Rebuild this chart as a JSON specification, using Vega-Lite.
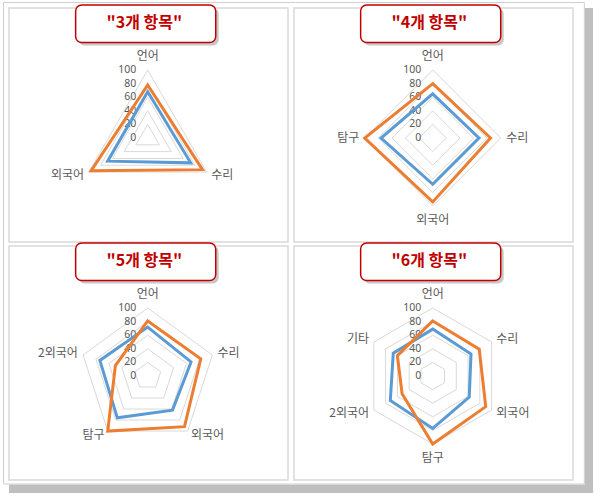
{
  "$schema": "https://vega.github.io/schema/vega-lite/v6.json",
  "description": "Radar charts with 3, 4, 5 and 6 items, two series each.",
  "padding": {"left": 2, "top": 0, "right": 2, "bottom": 2},
  "bounds": "flush",
  "background": "white",
  "data": {
    "values": [
      {"kind": "frame", "chart": "\"3개 항목\""},
      {"kind": "title", "chart": "\"3개 항목\""},
      {"kind": "title", "chart": "\"4개 항목\""},
      {"kind": "title", "chart": "\"5개 항목\""},
      {"kind": "title", "chart": "\"6개 항목\""},

      {"kind": "item", "chart": "\"3개 항목\"", "n": 3, "idx": 0, "item": "언어", "A": 68, "B": 78},
      {"kind": "item", "chart": "\"3개 항목\"", "n": 3, "idx": 1, "item": "수리", "A": 73, "B": 93},
      {"kind": "item", "chart": "\"3개 항목\"", "n": 3, "idx": 2, "item": "외국어", "A": 68, "B": 96},

      {"kind": "item", "chart": "\"4개 항목\"", "n": 4, "idx": 0, "item": "언어", "A": 65, "B": 80},
      {"kind": "item", "chart": "\"4개 항목\"", "n": 4, "idx": 1, "item": "수리", "A": 68, "B": 85},
      {"kind": "item", "chart": "\"4개 항목\"", "n": 4, "idx": 2, "item": "외국어", "A": 68, "B": 94},
      {"kind": "item", "chart": "\"4개 항목\"", "n": 4, "idx": 3, "item": "탐구", "A": 76, "B": 100},

      {"kind": "item", "chart": "\"5개 항목\"", "n": 5, "idx": 0, "item": "언어", "A": 72, "B": 81},
      {"kind": "item", "chart": "\"5개 항목\"", "n": 5, "idx": 1, "item": "수리", "A": 67, "B": 82},
      {"kind": "item", "chart": "\"5개 항목\"", "n": 5, "idx": 2, "item": "외국어", "A": 62, "B": 92},
      {"kind": "item", "chart": "\"5개 항목\"", "n": 5, "idx": 3, "item": "탐구", "A": 76, "B": 100},
      {"kind": "item", "chart": "\"5개 항목\"", "n": 5, "idx": 4, "item": "2외국어", "A": 74, "B": 50},

      {"kind": "item", "chart": "\"6개 항목\"", "n": 6, "idx": 0, "item": "언어", "A": 69, "B": 81},
      {"kind": "item", "chart": "\"6개 항목\"", "n": 6, "idx": 1, "item": "수리", "A": 65, "B": 79},
      {"kind": "item", "chart": "\"6개 항목\"", "n": 6, "idx": 2, "item": "외국어", "A": 62, "B": 90},
      {"kind": "item", "chart": "\"6개 항목\"", "n": 6, "idx": 3, "item": "탐구", "A": 77, "B": 100},
      {"kind": "item", "chart": "\"6개 항목\"", "n": 6, "idx": 4, "item": "2외국어", "A": 72, "B": 52},
      {"kind": "item", "chart": "\"6개 항목\"", "n": 6, "idx": 5, "item": "기타", "A": 67, "B": 60},

      {"kind": "tick", "chart": "\"3개 항목\"", "n": 3, "level": 0, "spokes": [0, 1, 2]},
      {"kind": "tick", "chart": "\"3개 항목\"", "n": 3, "level": 20, "spokes": [0, 1, 2]},
      {"kind": "tick", "chart": "\"3개 항목\"", "n": 3, "level": 40, "spokes": [0, 1, 2]},
      {"kind": "tick", "chart": "\"3개 항목\"", "n": 3, "level": 60, "spokes": [0, 1, 2]},
      {"kind": "tick", "chart": "\"3개 항목\"", "n": 3, "level": 80, "spokes": [0, 1, 2]},
      {"kind": "tick", "chart": "\"3개 항목\"", "n": 3, "level": 100, "spokes": [0, 1, 2]},

      {"kind": "tick", "chart": "\"4개 항목\"", "n": 4, "level": 0, "spokes": [0, 1, 2, 3]},
      {"kind": "tick", "chart": "\"4개 항목\"", "n": 4, "level": 20, "spokes": [0, 1, 2, 3]},
      {"kind": "tick", "chart": "\"4개 항목\"", "n": 4, "level": 40, "spokes": [0, 1, 2, 3]},
      {"kind": "tick", "chart": "\"4개 항목\"", "n": 4, "level": 60, "spokes": [0, 1, 2, 3]},
      {"kind": "tick", "chart": "\"4개 항목\"", "n": 4, "level": 80, "spokes": [0, 1, 2, 3]},
      {"kind": "tick", "chart": "\"4개 항목\"", "n": 4, "level": 100, "spokes": [0, 1, 2, 3]},

      {"kind": "tick", "chart": "\"5개 항목\"", "n": 5, "level": 0, "spokes": [0, 1, 2, 3, 4]},
      {"kind": "tick", "chart": "\"5개 항목\"", "n": 5, "level": 20, "spokes": [0, 1, 2, 3, 4]},
      {"kind": "tick", "chart": "\"5개 항목\"", "n": 5, "level": 40, "spokes": [0, 1, 2, 3, 4]},
      {"kind": "tick", "chart": "\"5개 항목\"", "n": 5, "level": 60, "spokes": [0, 1, 2, 3, 4]},
      {"kind": "tick", "chart": "\"5개 항목\"", "n": 5, "level": 80, "spokes": [0, 1, 2, 3, 4]},
      {"kind": "tick", "chart": "\"5개 항목\"", "n": 5, "level": 100, "spokes": [0, 1, 2, 3, 4]},

      {"kind": "tick", "chart": "\"6개 항목\"", "n": 6, "level": 0, "spokes": [0, 1, 2, 3, 4, 5]},
      {"kind": "tick", "chart": "\"6개 항목\"", "n": 6, "level": 20, "spokes": [0, 1, 2, 3, 4, 5]},
      {"kind": "tick", "chart": "\"6개 항목\"", "n": 6, "level": 40, "spokes": [0, 1, 2, 3, 4, 5]},
      {"kind": "tick", "chart": "\"6개 항목\"", "n": 6, "level": 60, "spokes": [0, 1, 2, 3, 4, 5]},
      {"kind": "tick", "chart": "\"6개 항목\"", "n": 6, "level": 80, "spokes": [0, 1, 2, 3, 4, 5]},
      {"kind": "tick", "chart": "\"6개 항목\"", "n": 6, "level": 100, "spokes": [0, 1, 2, 3, 4, 5]}
    ]
  },
  "facet": {"field": "chart", "type": "nominal", "title": null, "header": {"labelExpr": "''", "labelFontSize": 1, "labelColor": "transparent", "labelPadding": 0, "title": null, "titlePadding": 0}},
  "columns": 2,
  "spacing": {"row": 4, "column": 6},
  "spec": {
    "width": 279,
    "height": 234,
    "layer": [
      {
        "transform": [{"filter": "datum.kind === 'frame'"}],
        "mark": {"type": "rect", "fill": "#bfbfbf"},
        "encoding": {
          "x": {"datum": 642.8, "type": "quantitative", "scale": {"domain": [-204, 206.3], "nice": false, "zero": false}},
          "x2": {"datum": 654.9},
          "y": {"datum": 191.2, "type": "quantitative", "scale": {"domain": [-152.9, 191.2], "nice": false, "zero": false}},
          "y2": {"datum": -522.1}
        }
      },
      {
        "transform": [{"filter": "datum.kind === 'frame'"}],
        "mark": {"type": "rect", "fill": "#bfbfbf"},
        "encoding": {
          "x": {"datum": -204, "type": "quantitative"},
          "x2": {"datum": 654.9},
          "y": {"datum": -509.6, "type": "quantitative"},
          "y2": {"datum": -522.1}
        }
      },
      {
        "transform": [{"filter": "datum.kind === 'frame'"}],
        "mark": {"type": "rect", "fillOpacity": 0, "stroke": "#cfcfcf", "strokeWidth": 1},
        "encoding": {
          "x": {"datum": -212.1, "type": "quantitative"},
          "x2": {"datum": 642.1},
          "y": {"datum": 199.3, "type": "quantitative"},
          "y2": {"datum": -508.8}
        }
      },
      {
        "transform": [
          {"filter": "datum.kind === 'tick' && datum.level > 0"},
          {"flatten": ["spokes"], "as": ["idx"]},
          {"calculate": "2 * PI * datum.idx / datum.n", "as": "ang"},
          {"calculate": "datum.level * sin(datum.ang)", "as": "gx"},
          {"calculate": "datum.level * cos(datum.ang)", "as": "gy"}
        ],
        "mark": {"type": "line", "color": "#d9d9d9", "strokeWidth": 1, "interpolate": "linear-closed"},
        "encoding": {
          "x": {"field": "gx", "type": "quantitative"},
          "y": {"field": "gy", "type": "quantitative"},
          "detail": {"field": "level", "type": "nominal"},
          "order": {"field": "idx", "type": "quantitative"}
        }
      },
      {
        "transform": [
          {"filter": "datum.kind === 'tick'"}
        ],
        "mark": {"type": "text", "align": "right", "baseline": "middle", "fontSize": 10.5, "font": "Noto Sans", "color": "#595959"},
        "encoding": {
          "x": {"datum": -17, "type": "quantitative"},
          "y": {"field": "level", "type": "quantitative"},
          "text": {"field": "level", "type": "quantitative"}
        }
      },
      {
        "transform": [
          {"filter": "datum.kind === 'item'"},
          {"fold": ["A", "B"], "as": ["series", "value"]},
          {"calculate": "2 * PI * datum.idx / datum.n", "as": "ang"},
          {"calculate": "datum.value * sin(datum.ang)", "as": "vx"},
          {"calculate": "datum.value * cos(datum.ang)", "as": "vy"}
        ],
        "mark": {"type": "line", "strokeWidth": 3, "interpolate": "linear-closed"},
        "encoding": {
          "x": {"field": "vx", "type": "quantitative"},
          "y": {"field": "vy", "type": "quantitative"},
          "color": {"field": "series", "type": "nominal", "scale": {"domain": ["A", "B"], "range": ["#5B9BD5", "#ED7D31"]}, "legend": null},
          "order": {"field": "idx", "type": "quantitative"}
        }
      },
      {
        "transform": [
          {"filter": "datum.kind === 'item'"},
          {"calculate": "2 * PI * datum.idx / datum.n", "as": "ang"},
          {"calculate": "108 * sin(datum.ang)", "as": "lx"},
          {"calculate": "108 * cos(datum.ang)", "as": "ly"}
        ],
        "encoding": {
          "x": {"field": "lx", "type": "quantitative"},
          "y": {"field": "ly", "type": "quantitative"},
          "text": {"field": "item", "type": "nominal"}
        },
        "layer": [
          {
            "transform": [{"filter": "datum.lx > 1"}],
            "mark": {"type": "text", "align": "left", "baseline": "middle", "fontSize": 12, "font": "Noto Sans CJK KR", "color": "#595959"}
          },
          {
            "transform": [{"filter": "datum.lx < -1"}],
            "mark": {"type": "text", "align": "right", "baseline": "middle", "fontSize": 12, "font": "Noto Sans CJK KR", "color": "#595959"}
          },
          {
            "transform": [{"filter": "abs(datum.lx) <= 1 && datum.ly > 0"}],
            "mark": {"type": "text", "align": "center", "baseline": "bottom", "dy": -2, "fontSize": 12, "font": "Noto Sans CJK KR", "color": "#595959"}
          },
          {
            "transform": [{"filter": "abs(datum.lx) <= 1 && datum.ly < 0"}],
            "mark": {"type": "text", "align": "center", "baseline": "top", "dy": 4, "fontSize": 12, "font": "Noto Sans CJK KR", "color": "#595959"}
          }
        ]
      },
      {
        "transform": [{"filter": "datum.kind === 'title'"}],
        "mark": {"type": "rect", "fill": "#9a9a9a", "opacity": 0.55, "cornerRadius": 6},
        "encoding": {
          "x": {"datum": -101.6, "type": "quantitative"},
          "x2": {"datum": 104.4},
          "y": {"datum": 136, "type": "quantitative"},
          "y2": {"datum": 191.1}
        }
      },
      {
        "transform": [{"filter": "datum.kind === 'title'"}],
        "mark": {"type": "rect", "fill": "white", "stroke": "#c00000", "strokeWidth": 1.5, "cornerRadius": 6},
        "encoding": {
          "x": {"datum": -106, "type": "quantitative"},
          "x2": {"datum": 100},
          "y": {"datum": 140.4, "type": "quantitative"},
          "y2": {"datum": 195.5}
        }
      },
      {
        "transform": [{"filter": "datum.kind === 'title'"}],
        "mark": {"type": "text", "align": "center", "baseline": "middle", "fontSize": 16, "fontWeight": "bold", "font": "Noto Sans CJK KR", "color": "#c00000"},
        "encoding": {
          "x": {"datum": -5, "type": "quantitative"},
          "y": {"datum": 169, "type": "quantitative"},
          "text": {"field": "chart", "type": "nominal"}
        }
      }
    ]
  },
  "config": {
    "view": {"stroke": "#d9d9d9", "strokeWidth": 1.5},
    "axis": {"disable": true}
  }
}
